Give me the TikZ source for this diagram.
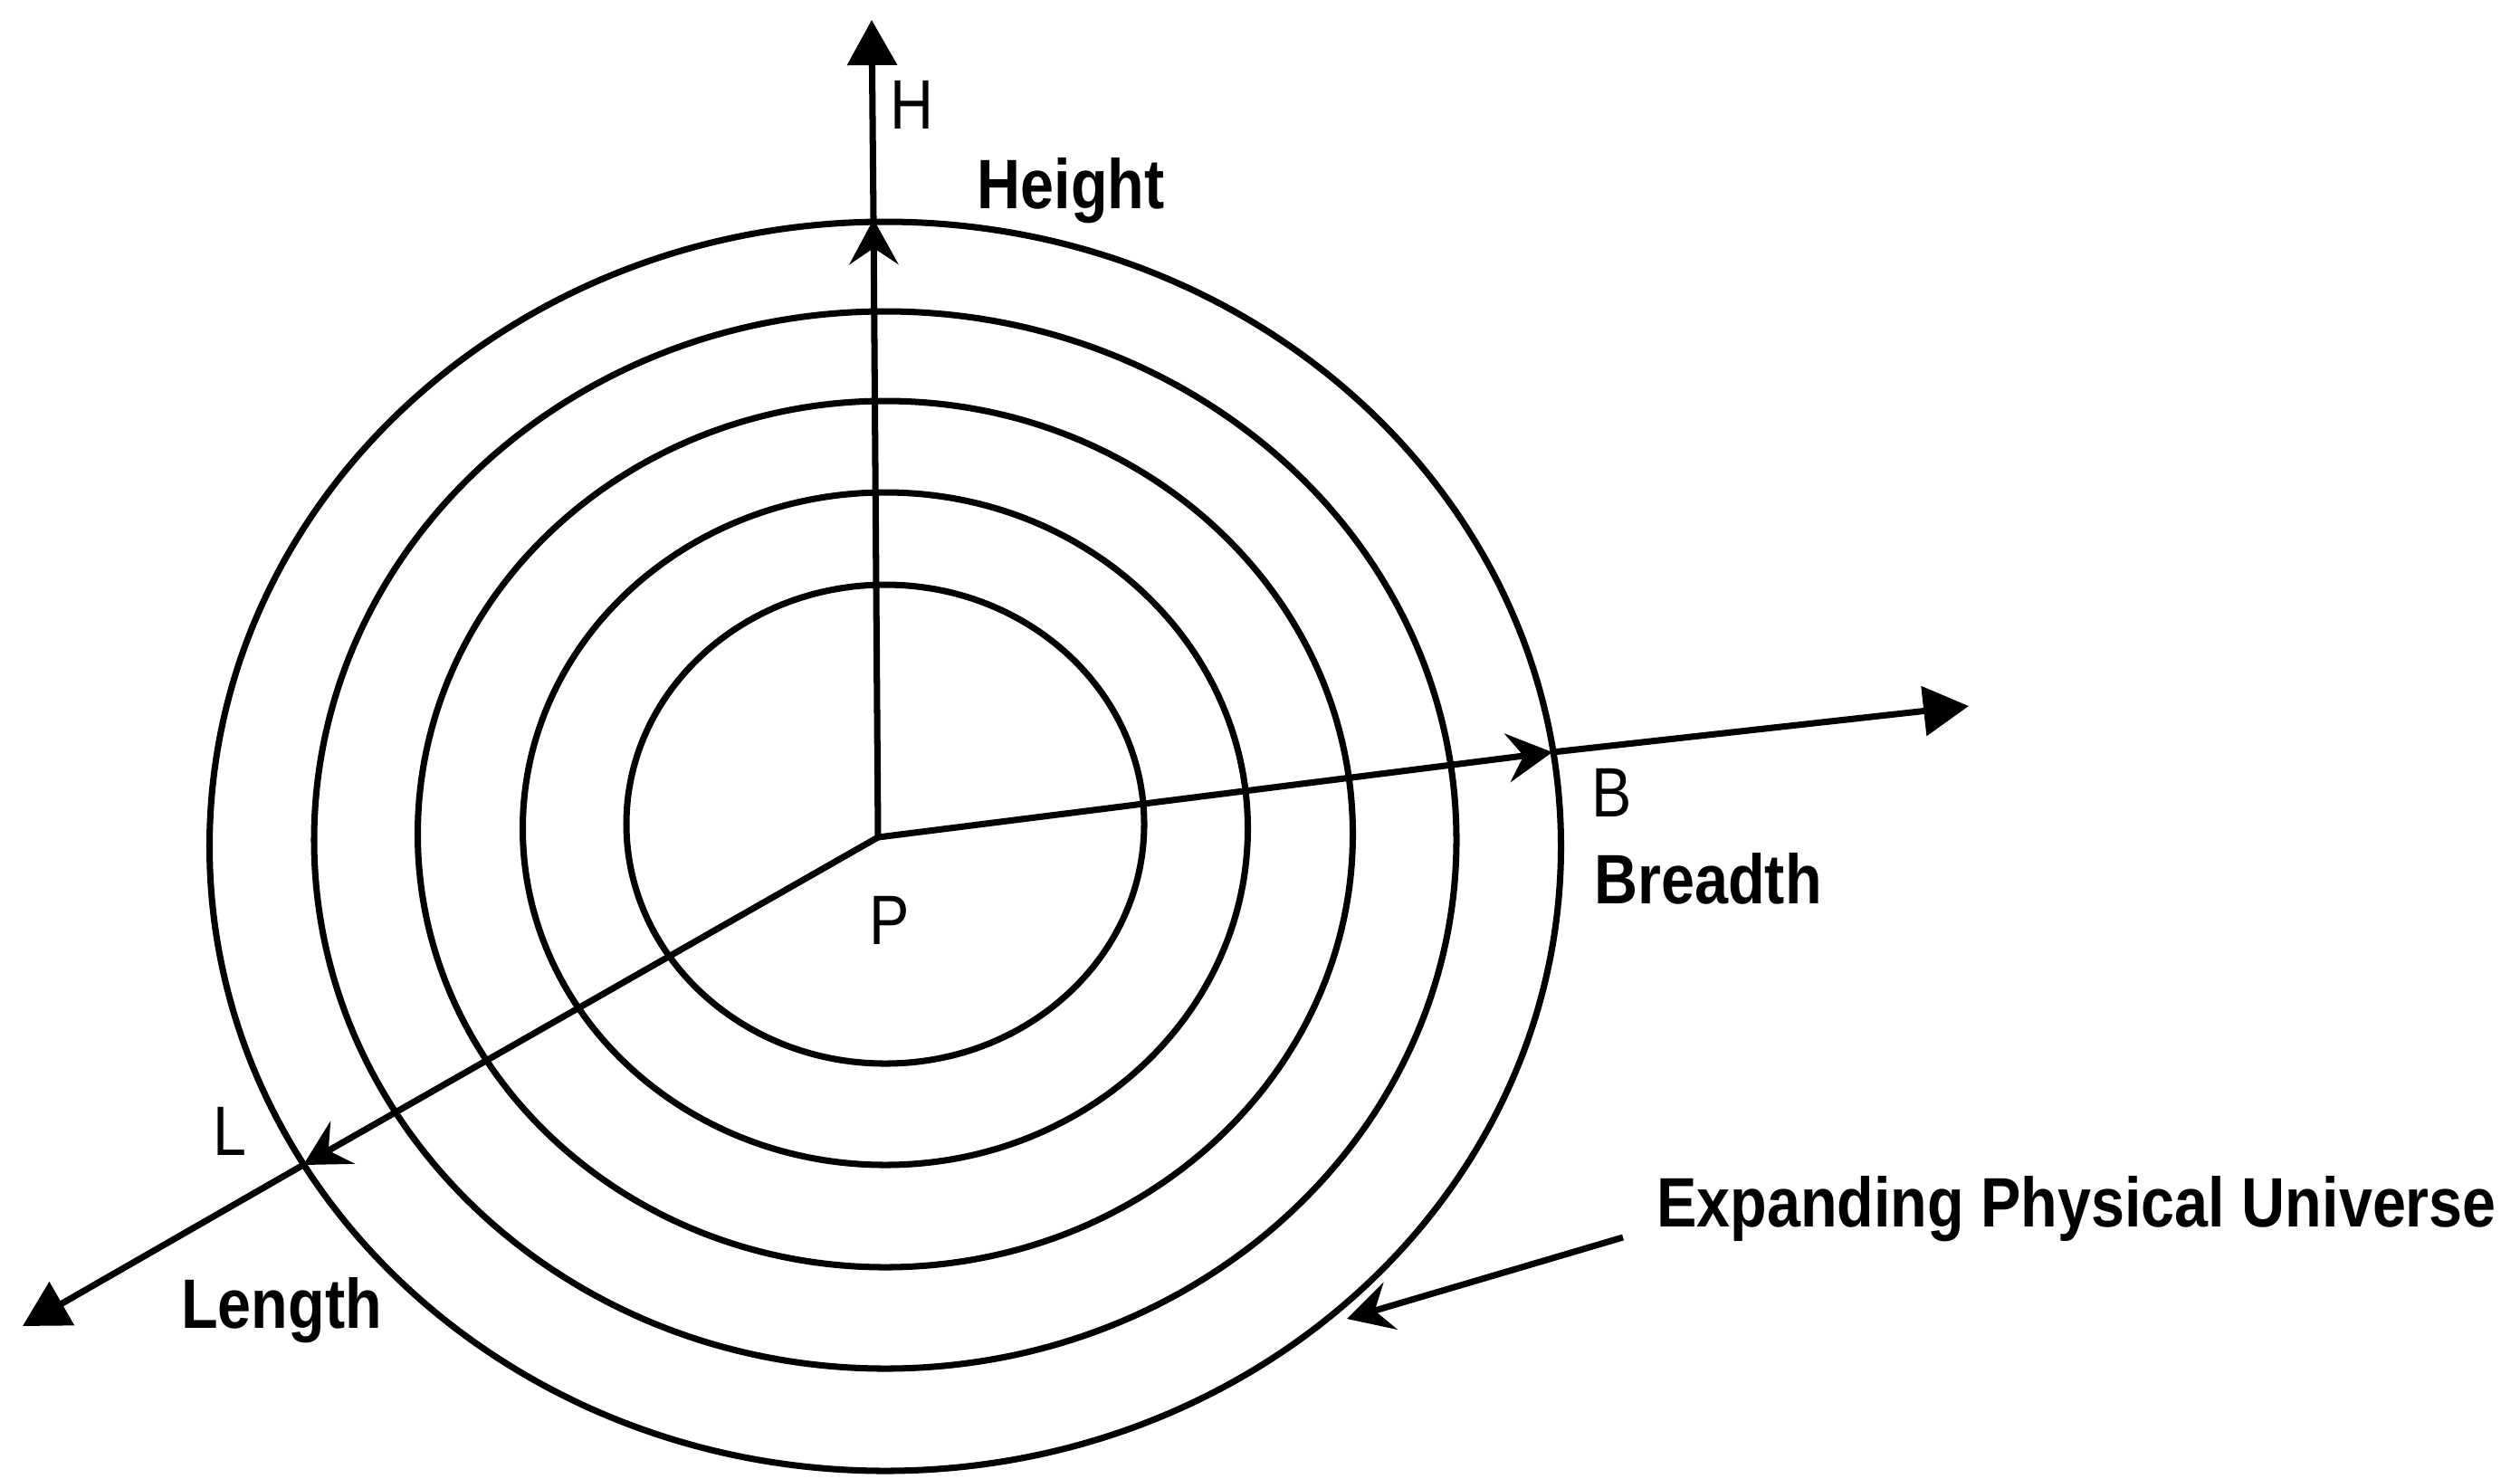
\documentclass[tikz,border=0pt]{standalone}
\usepackage{fontspec}
\setmainfont{Liberation Sans}[FakeStretch=0.86]
\usepackage{tikz}
\usetikzlibrary{arrows.meta}

\begin{document}
\begin{tikzpicture}[
  line width=2pt,
  axisline/.style={-{Triangle[length=0.5cm,width=0.54cm]}},
  midtip/.style={-{Stealth[length=0.5cm,width=0.54cm,inset=0.18cm]}},
  lbl/.style={anchor=base,inner sep=0pt,font=\fontsize{22}{26}\selectfont},
  word/.style={anchor=base,inner sep=0pt,font=\fontsize{22}{26}\selectfont\bfseries}
]
\useasboundingbox (0,0) rectangle (27.84,-16.33);
% shells of the universe
\foreach \cy/\rx/\ry in {-9.105/2.86/2.645,-9.155/4.005/3.715,-9.215/5.165/4.785,-9.28/6.31/5.84,-9.35/7.465/6.90}
  {\draw (9.78,\cy) ellipse [x radius=\rx, y radius=\ry];}
% centre and axis points
\coordinate (P) at (9.70,-9.25);
\coordinate (Hmid) at (9.65,-2.42);
\coordinate (Htip) at (9.63,-0.22);
\coordinate (Bmid) at (17.15,-8.31);
\coordinate (Btip) at (21.75,-7.80);
\coordinate (Lmid) at (3.35,-12.87);
\coordinate (Ltip) at (0.25,-14.65);
% axes
\draw[midtip] (P) -- (Hmid);
\draw[axisline] (Hmid) -- (Htip);
\draw[midtip] (P) -- (Bmid);
\draw[axisline] (Bmid) -- (Btip);
\draw[midtip] (P) -- (Lmid);
\draw[axisline] (Lmid) -- (Ltip);
% labels
\node[lbl] (hl) at (10.07,-1.42) {H};
\node[word] (height) at (11.83,-2.30) {Height};
\node[lbl] (bl) at (17.81,-9.02) {B};
\node[word] (breadth) at (18.87,-9.98) {Breadth};
\node[lbl] (pl) at (9.83,-10.43) {P};
\node[lbl] (ll) at (2.54,-12.76) {L};
\node[word] (length) at (3.11,-14.67) {Length};
\node[word] (epu) at (22.94,-13.55) {Expanding Physical Universe};
% pointer to the outer shell
\coordinate (epustart) at (17.93,-13.67);
\coordinate (univ) at (14.88,-14.57);
\draw[midtip] (epustart) -- (univ);
\end{tikzpicture}
\end{document}
